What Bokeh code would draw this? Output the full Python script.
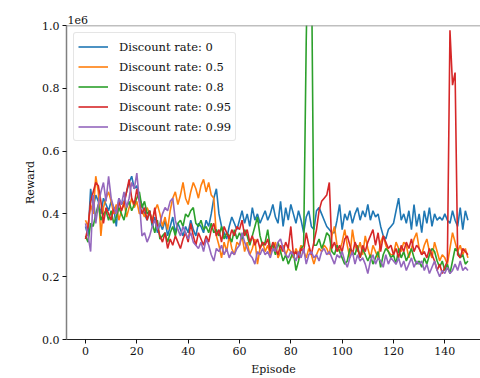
from bokeh.plotting import figure
from bokeh.models import Range1d, FixedTicker, PrintfTickFormatter, Span, Legend, Title
from bokeh.embed import file_html
from bokeh.resources import INLINE

# Rewards in units of 1e6
episodes = list(range(150))

rate_0 = [
    0.36, 0.33, 0.48, 0.42, 0.46, 0.44, 0.40, 0.45, 0.43, 0.41,
    0.44, 0.42, 0.36, 0.45, 0.43, 0.44, 0.47, 0.50, 0.52, 0.48,
    0.49, 0.45, 0.43, 0.40, 0.38, 0.41, 0.36, 0.39, 0.34, 0.37,
    0.35, 0.38, 0.33, 0.36, 0.39, 0.34, 0.37, 0.35, 0.33, 0.36,
    0.34, 0.38, 0.35, 0.33, 0.37, 0.36, 0.34, 0.38, 0.36, 0.40,
    0.45, 0.48, 0.40, 0.36, 0.34, 0.32, 0.36, 0.39, 0.37, 0.35,
    0.38, 0.41, 0.37, 0.40, 0.36, 0.42, 0.38, 0.40, 0.37, 0.39,
    0.41, 0.38, 0.40, 0.43, 0.39, 0.37, 0.44, 0.36, 0.42, 0.38,
    0.43, 0.40, 0.37, 0.41, 0.38, 0.34, 0.39, 0.41, 0.36, 0.35,
    0.41, 0.42, 0.40, 0.38, 0.36, 0.35, 0.34, 0.34, 0.38, 0.43,
    0.35, 0.40, 0.38, 0.41, 0.37, 0.40, 0.42, 0.38, 0.41, 0.39,
    0.43, 0.38, 0.41, 0.39, 0.40, 0.36, 0.33, 0.32, 0.35, 0.36,
    0.37, 0.41, 0.45, 0.38, 0.40, 0.37, 0.41, 0.35, 0.43, 0.36,
    0.40, 0.34, 0.41, 0.37, 0.42, 0.36, 0.40, 0.38, 0.39, 0.38,
    0.40, 0.38, 0.37, 0.41, 0.38, 0.36, 0.42, 0.35, 0.41, 0.38,
]

rate_05 = [
    0.38, 0.36, 0.43, 0.40, 0.52, 0.47, 0.33, 0.42, 0.45, 0.47,
    0.44, 0.40, 0.43, 0.38, 0.41, 0.44, 0.39, 0.42, 0.45, 0.42,
    0.44, 0.40, 0.41, 0.39, 0.42, 0.40, 0.38, 0.41, 0.43, 0.40,
    0.36, 0.39, 0.35, 0.41, 0.45, 0.47, 0.43, 0.46, 0.50, 0.45,
    0.43, 0.47, 0.50, 0.48, 0.45, 0.49, 0.51, 0.47, 0.50, 0.46,
    0.45, 0.33, 0.30, 0.26, 0.31, 0.28, 0.33, 0.29, 0.27, 0.31,
    0.30, 0.33, 0.28, 0.31, 0.27, 0.29, 0.32, 0.24, 0.29, 0.31,
    0.28, 0.30, 0.27, 0.29, 0.31, 0.26, 0.28, 0.30, 0.27, 0.29,
    0.28, 0.26, 0.29, 0.27, 0.30, 0.28, 0.26, 0.29, 0.27, 0.24,
    0.27, 0.29, 0.28, 0.30, 0.29, 0.27, 0.33, 0.36, 0.30, 0.28,
    0.31, 0.35, 0.30, 0.26, 0.35, 0.30, 0.28, 0.31, 0.27, 0.33,
    0.29, 0.26, 0.30, 0.28, 0.26, 0.31, 0.33, 0.30, 0.28, 0.27,
    0.27, 0.31, 0.29, 0.28, 0.31, 0.30, 0.26, 0.29, 0.32, 0.34,
    0.29, 0.27, 0.30, 0.32, 0.28, 0.26, 0.31, 0.28, 0.25, 0.27,
    0.26, 0.24, 0.29, 0.34, 0.31, 0.28, 0.30, 0.27, 0.29, 0.26,
]

rate_08 = [
    0.33, 0.31, 0.37, 0.36, 0.40, 0.43, 0.38, 0.40, 0.41, 0.38,
    0.41, 0.37, 0.39, 0.42, 0.40, 0.38, 0.42, 0.44, 0.41, 0.43,
    0.45, 0.47, 0.42, 0.44, 0.40, 0.41, 0.37, 0.34, 0.38, 0.32,
    0.33, 0.34, 0.31, 0.34, 0.36, 0.33, 0.37, 0.38, 0.36, 0.40,
    0.39, 0.41, 0.42, 0.37, 0.36, 0.38, 0.35, 0.36, 0.34, 0.37,
    0.34, 0.35, 0.33, 0.36, 0.32, 0.34, 0.33, 0.31, 0.35, 0.32,
    0.34, 0.32, 0.35, 0.33, 0.30, 0.33, 0.36, 0.39, 0.33, 0.30,
    0.31, 0.35, 0.29, 0.30, 0.27, 0.31, 0.28, 0.25, 0.27, 0.24,
    0.26, 0.28, 0.22, 0.25, 0.29, 0.30, 0.95, 1.40, 1.25, 0.30,
    0.30, 0.32, 0.29, 0.31, 0.34, 0.33, 0.28, 0.27, 0.30, 0.28,
    0.26, 0.24, 0.25, 0.29, 0.28, 0.27, 0.30, 0.26, 0.29, 0.27,
    0.25, 0.27, 0.24, 0.26, 0.28, 0.23, 0.27, 0.29, 0.28, 0.26,
    0.27, 0.24, 0.29, 0.26, 0.28, 0.25, 0.27, 0.29, 0.26, 0.24,
    0.25, 0.23, 0.26, 0.24, 0.27, 0.29, 0.28, 0.25, 0.23, 0.25,
    0.22, 0.24, 0.21, 0.25, 0.29, 0.28, 0.26, 0.27, 0.24, 0.25,
]

rate_095 = [
    0.32, 0.36, 0.44, 0.47, 0.50, 0.49, 0.44, 0.37, 0.42, 0.40,
    0.38, 0.42, 0.40, 0.44, 0.41, 0.43, 0.47, 0.51, 0.45, 0.43,
    0.48, 0.44, 0.40, 0.42, 0.38, 0.41, 0.37, 0.42, 0.36, 0.33,
    0.31, 0.34, 0.29, 0.32, 0.30, 0.33, 0.31, 0.29, 0.32, 0.34,
    0.31, 0.37, 0.33, 0.30, 0.34, 0.32, 0.30, 0.33, 0.31, 0.35,
    0.37, 0.33, 0.35, 0.31, 0.36, 0.34, 0.32, 0.35, 0.33, 0.36,
    0.35, 0.38, 0.33, 0.35, 0.31, 0.33, 0.30, 0.32, 0.29, 0.31,
    0.30, 0.32, 0.28, 0.31, 0.29, 0.27, 0.30, 0.28, 0.31, 0.29,
    0.36, 0.27, 0.28, 0.26, 0.29, 0.28, 0.34, 0.30, 0.27, 0.31,
    0.35, 0.41, 0.44, 0.45, 0.46, 0.50, 0.29, 0.31, 0.28, 0.30,
    0.28, 0.32, 0.33, 0.30, 0.27, 0.31, 0.29, 0.26, 0.30, 0.28,
    0.31, 0.33, 0.35, 0.30, 0.34, 0.28, 0.33, 0.31, 0.29, 0.30,
    0.27, 0.29, 0.26, 0.30, 0.28, 0.31, 0.29, 0.32, 0.28, 0.30,
    0.29, 0.27, 0.28, 0.26, 0.29, 0.27, 0.25, 0.22, 0.24, 0.21,
    0.23, 0.25, 0.985, 0.81, 0.85, 0.27, 0.26, 0.29, 0.28, 0.27,
]

rate_099 = [
    0.37, 0.33, 0.28, 0.46, 0.37, 0.43, 0.47, 0.50, 0.44, 0.52,
    0.45, 0.42, 0.40, 0.45, 0.43, 0.47, 0.42, 0.45, 0.50, 0.48,
    0.53, 0.44, 0.33, 0.34, 0.31, 0.33, 0.36, 0.38, 0.35, 0.37,
    0.40, 0.42, 0.41, 0.44, 0.45, 0.38, 0.35, 0.33, 0.36, 0.34,
    0.32, 0.34, 0.31, 0.30, 0.29, 0.31, 0.28, 0.32, 0.30, 0.27,
    0.25, 0.29, 0.28, 0.30, 0.27, 0.29, 0.26, 0.28, 0.27, 0.29,
    0.30, 0.34, 0.31, 0.29, 0.27, 0.26, 0.24, 0.28, 0.27, 0.29,
    0.27, 0.28, 0.26, 0.29, 0.28, 0.31, 0.32, 0.29, 0.27, 0.26,
    0.28, 0.27, 0.25, 0.28, 0.26, 0.29, 0.24, 0.27, 0.28, 0.26,
    0.27, 0.25, 0.28, 0.29, 0.27, 0.28, 0.26, 0.24, 0.27, 0.26,
    0.28, 0.25, 0.23, 0.26, 0.28, 0.24, 0.27, 0.25, 0.26, 0.24,
    0.21, 0.25, 0.27, 0.24, 0.26, 0.25, 0.23, 0.27, 0.24, 0.26,
    0.25, 0.24, 0.26, 0.23, 0.25, 0.22, 0.24, 0.26, 0.23, 0.25,
    0.24, 0.25, 0.22, 0.24, 0.21, 0.23, 0.25, 0.22, 0.20, 0.22,
    0.21, 0.23, 0.21, 0.22, 0.24, 0.22, 0.25, 0.22, 0.23, 0.22,
]

series_labels = ["Discount rate: 0", "Discount rate: 0.5", "Discount rate: 0.8",
                 "Discount rate: 0.95", "Discount rate: 0.99"]
series_values = [rate_0, rate_05, rate_08, rate_095, rate_099]
colors = ["#1f77b4", "#ff7f0e", "#2ca02c", "#d62728", "#9467bd"]
x_ticks = [0, 20, 40, 60, 80, 100, 120, 140]
y_ticks = [0.0, 0.2, 0.4, 0.6, 0.8, 1.0]

FONT = "DejaVu Serif"
FS = "11px"
TXT = "#111111"

p = figure(width=480, height=378, output_backend="svg", toolbar_location=None,
           x_range=Range1d(-7.4, 153.9), y_range=Range1d(0, 1.0),
           min_border_left=66, min_border_right=0, min_border_top=25, min_border_bottom=39)
p.outline_line_color = None
p.xgrid.visible = False
p.ygrid.visible = False
p.background_fill_color = "white"
p.border_fill_color = "white"

offset_title = Title(text="1e6", align="left", offset=1, standoff=4,
                     text_font=FONT, text_font_size=FS, text_font_style="normal",
                     text_color=TXT)
p.add_layout(offset_title, "above")

items = []
for lab, vals, c in zip(series_labels, series_values, colors):
    r = p.line(episodes, vals, line_color=c, line_width=1.6)
    items.append((lab, [r]))

legend = Legend(items=items, location="top_left")
legend.label_text_font = FONT
legend.label_text_font_size = "11.5px"
legend.label_text_color = TXT
legend.border_line_color = "#cccccc"
legend.border_line_width = 1
legend.background_fill_alpha = 0.8
legend.padding = 4
legend.spacing = 1
legend.margin = 7
legend.glyph_width = 30
legend.glyph_height = 19
legend.label_height = 19
legend.label_standoff = 11
legend.border_radius = 3
p.add_layout(legend)

for ax in (p.xaxis[0], p.yaxis[0]):
    ax.major_label_text_font = FONT
    ax.major_label_text_font_size = FS
    ax.major_label_text_color = TXT
    ax.axis_label_text_font = FONT
    ax.axis_label_text_font_size = FS
    ax.axis_label_text_font_style = "normal"
    ax.axis_label_text_color = TXT
    ax.major_tick_in = 0
    ax.major_tick_out = 4
    ax.major_tick_line_color = TXT
    ax.minor_tick_line_color = None
    ax.major_label_standoff = 3

p.xaxis.ticker = FixedTicker(ticks=x_ticks)
p.yaxis.ticker = FixedTicker(ticks=y_ticks)
p.yaxis.formatter = PrintfTickFormatter(format="%.1f")
p.xaxis.axis_label = "Episode"
p.yaxis.axis_label = "Reward"
p.xaxis.axis_label_standoff = 5
p.yaxis.axis_label_standoff = 2
p.xaxis.axis_line_color = "#222222"
p.yaxis.axis_line_color = "#808080"
p.yaxis.axis_line_width = 1.5

p.add_layout(Span(location=1.0, dimension="width", line_color="#808080", line_width=1.5))

open("out.html", "w").write(file_html(p, INLINE))
